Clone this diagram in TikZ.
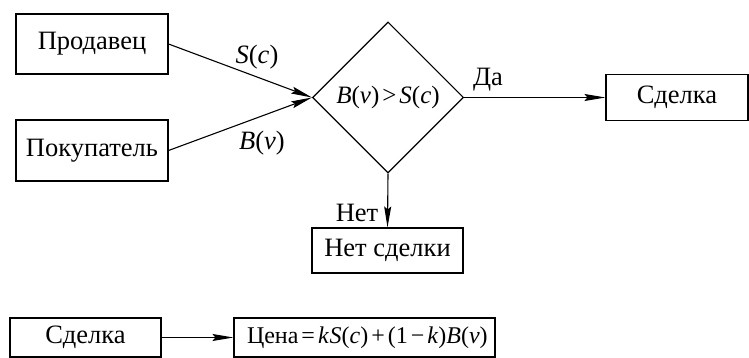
\documentclass[tikz,border=0pt]{standalone}
\usepackage{fontspec}
\newfontfamily\tms{Liberation Serif}
\usetikzlibrary{shapes.geometric,arrows.meta}
\newcommand{\iv}[1]{\textit{#1}}
\begin{document}
\begin{tikzpicture}[x=1pt,y=-1pt,
  font=\tms\fontsize{26.5}{32}\selectfont,
  box/.style={draw,line width=1.1pt,rectangle,inner sep=0pt},
  arr/.style={line width=1.1pt,-{Stealth[length=21pt,width=7pt,inset=3pt]}},
  lbl/.style={inner sep=0pt}]
\useasboundingbox (0,0) rectangle (749,358);
\node[box,minimum width=152pt,minimum height=60pt] (prod) at (92,44) {Продавец};
\node[box,minimum width=152pt,minimum height=61pt] (pok) at (92,150.5) {Покупатель};
\node[draw,line width=1.1pt,diamond,inner sep=0pt,minimum width=151pt,minimum height=151pt] (dec) at (388,97.5) {\fontsize{25}{30}\selectfont\iv{B}(\iv{v})\kern3pt>\kern3pt\iv{S}(\iv{c})};
\node[box,minimum width=142pt,minimum height=46pt] (deal) at (677,97.5) {Сделка};
\node[box,minimum width=151pt,minimum height=45pt] (nodeal) at (387.5,250.5) {Нет сделки};
\node[box,minimum width=151pt,minimum height=39pt] (deal2) at (85.5,337.5) {Сделка};
\node[box,minimum height=39pt,text width=261pt,align=left] (price) at (364.5,337.5) {\hspace*{13pt}\fontsize{24}{30}\selectfont Цена\kern3pt=\kern3pt\iv{k\kern1pt S}(\iv{c})\kern3pt+\kern3pt(1\kern3pt−\kern3pt\iv{k})\iv{B}(\iv{v})};
\draw[arr] (prod.east) -- (dec.west);
\draw[arr] (pok.east) -- (dec.west);
\draw[arr] (dec.east) -- (deal.west);
\draw[arr] (dec.south) -- (nodeal.north);
\draw[arr] (deal2.east) -- (price.west);
\node[lbl] (ls) at (257,57) {\iv{S}(\iv{c})};
\node[lbl] (lb) at (262,143) {\iv{B}(\iv{v})};
\node[lbl] (lda) at (488,80) {Да};
\node[lbl] (lnet) at (357,213) {Нет};
\end{tikzpicture}
\end{document}
